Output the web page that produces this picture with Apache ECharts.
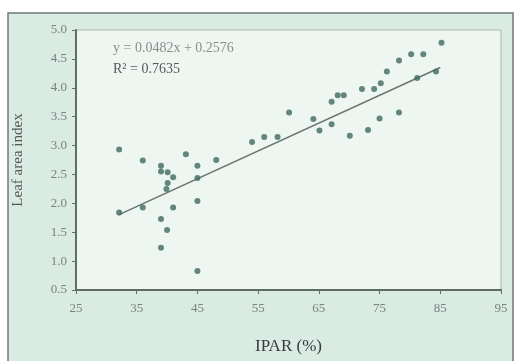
<!DOCTYPE html>
<html>
<head>
<meta charset="utf-8">
<script src="https://cdn.jsdelivr.net/npm/echarts@6/dist/echarts.min.js"></script>
<style>html,body{margin:0;padding:0;background:#fff;}#c{width:521px;height:361px;}</style>
</head>
<body>
<div id="c"></div>
<script>
// IPAR (%) values
var ipar = [32.1, 36.0, 43.1, 39.0, 39.0, 40.1, 41.0, 45.0, 48.1, 40.1, 39.9, 45.0, 32.1, 36.0, 41.0, 45.0, 39.0, 40.0, 39.0, 45.0,
            54.0, 56.0, 58.2, 60.1, 64.1, 65.1, 67.1, 67.1, 68.1, 69.1, 70.1, 72.1, 73.1, 74.1, 75.0, 75.2, 76.2, 78.2, 80.2, 82.2, 85.2, 81.2, 84.3, 78.2];
// Leaf area index values
var lai =  [2.93, 2.74, 2.85, 2.65, 2.55, 2.54, 2.45, 2.65, 2.75, 2.35, 2.25, 2.44, 1.84, 1.93, 1.93, 2.04, 1.73, 1.54, 1.23, 0.83,
            3.06, 3.15, 3.15, 3.57, 3.46, 3.26, 3.37, 3.76, 3.87, 3.87, 3.17, 3.98, 3.27, 3.98, 3.47, 4.08, 4.28, 4.47, 4.58, 4.58, 4.78, 4.17, 4.28, 3.57];
// Trend line end points
var trendX = [32, 85];
var trendY = [1.80, 4.35];
var eqText = 'y = 0.0482x + 0.2576';
var r2Text = 'R\u00b2 = 0.7635';
var xName = 'IPAR (%)';
var yName = 'Leaf area index';

var pts = ipar.map(function (x, i) { return [x, lai[i]]; });
var trend = trendX.map(function (x, i) { return [x, trendY[i]]; });

var serif = '"Liberation Serif", "DejaVu Serif", serif';
var chart = echarts.init(document.getElementById('c'), null, {renderer: 'canvas'});
chart.setOption({
  animation: false,
  backgroundColor: '#ffffff',
  graphic: [
    {type: 'rect', z: -10, shape: {x: 8, y: 13, width: 505, height: 360},
     style: {fill: '#d9ebe3', stroke: '#6f7a75', lineWidth: 1.5}},
    {type: 'text', left: 113, top: 41, z: 10,
     style: {text: eqText, font: '14px ' + serif, fill: '#8a8f8c'}},
    {type: 'text', left: 113, top: 62, z: 10,
     style: {text: r2Text, font: '14px ' + serif, fill: '#555a57'}}
  ],
  grid: {left: 76, right: 20, top: 30, bottom: 71, show: true,
         backgroundColor: '#eef6f2', borderColor: '#a9b3ae', borderWidth: 1},
  xAxis: {
    type: 'value', min: 25, max: 95, interval: 10,
    name: xName, nameLocation: 'middle', nameGap: 48,
    nameTextStyle: {fontFamily: serif, fontSize: 17, color: '#3a3a3a'},
    axisLine: {show: true, lineStyle: {color: '#5f6d67', width: 2}},
    axisTick: {show: true, length: 4, lineStyle: {color: '#5f6d67'}},
    axisLabel: {margin: 12, fontFamily: serif, fontSize: 13, color: '#7a827e'},
    splitLine: {show: false}
  },
  yAxis: {
    type: 'value', min: 0.5, max: 5, interval: 0.5,
    name: yName, nameLocation: 'middle', nameGap: 50, nameRotate: 90,
    nameTextStyle: {fontFamily: serif, fontSize: 15, color: '#555'},
    axisLine: {show: true, lineStyle: {color: '#5f6d67', width: 2}},
    axisTick: {show: true, length: 4, lineStyle: {color: '#5f6d67'}},
    axisLabel: {margin: 9, fontFamily: serif, fontSize: 13, color: '#7a827e',
                formatter: function (v) { return v.toFixed(1); }},
    splitLine: {show: false}
  },
  series: [
    {type: 'line', data: trend, symbol: 'none', silent: true,
     lineStyle: {color: '#6a7570', width: 1.5}, z: 2},
    {type: 'scatter', data: pts, symbol: 'circle', symbolSize: 6,
     itemStyle: {color: '#3e6a5d'}, z: 3}
  ]
});
</script>
</body>
</html>
